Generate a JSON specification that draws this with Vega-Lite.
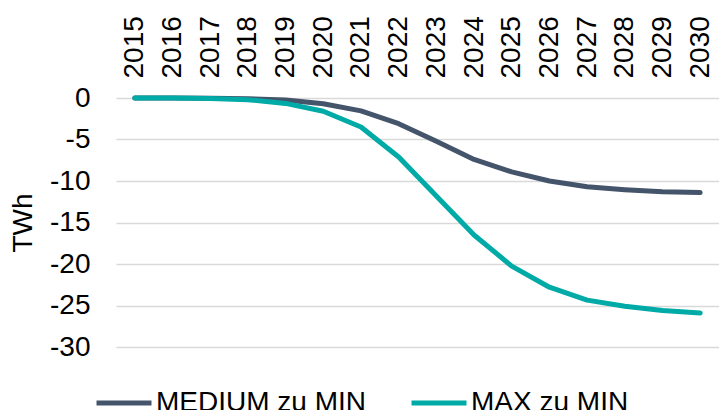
{
  "$schema": "https://vega.github.io/schema/vega-lite/v6.json",
  "autosize": {"type": "none"},
  "width": 603,
  "height": 249,
  "padding": {"left": 116, "top": 98, "right": 0, "bottom": 63},
  "background": "white",
  "config": {
    "view": {"stroke": null},
    "font": "Liberation Sans",
    "axis": {"labelFont": "Liberation Sans", "titleFont": "Liberation Sans", "labelColor": "#000000", "titleColor": "#000000"},
    "legend": {"labelFont": "Liberation Sans", "labelColor": "#000000"}
  },
  "data": {
    "values": [
      {"year": "2015", "series": "MEDIUM zu MIN", "value": 0},
      {"year": "2016", "series": "MEDIUM zu MIN", "value": 0},
      {"year": "2017", "series": "MEDIUM zu MIN", "value": -0.02},
      {"year": "2018", "series": "MEDIUM zu MIN", "value": -0.08},
      {"year": "2019", "series": "MEDIUM zu MIN", "value": -0.25},
      {"year": "2020", "series": "MEDIUM zu MIN", "value": -0.7},
      {"year": "2021", "series": "MEDIUM zu MIN", "value": -1.55},
      {"year": "2022", "series": "MEDIUM zu MIN", "value": -3.1},
      {"year": "2023", "series": "MEDIUM zu MIN", "value": -5.2},
      {"year": "2024", "series": "MEDIUM zu MIN", "value": -7.4},
      {"year": "2025", "series": "MEDIUM zu MIN", "value": -8.9},
      {"year": "2026", "series": "MEDIUM zu MIN", "value": -10.0},
      {"year": "2027", "series": "MEDIUM zu MIN", "value": -10.7},
      {"year": "2028", "series": "MEDIUM zu MIN", "value": -11.05},
      {"year": "2029", "series": "MEDIUM zu MIN", "value": -11.3},
      {"year": "2030", "series": "MEDIUM zu MIN", "value": -11.4},
      {"year": "2015", "series": "MAX zu MIN", "value": 0},
      {"year": "2016", "series": "MAX zu MIN", "value": 0},
      {"year": "2017", "series": "MAX zu MIN", "value": -0.05},
      {"year": "2018", "series": "MAX zu MIN", "value": -0.2},
      {"year": "2019", "series": "MAX zu MIN", "value": -0.65},
      {"year": "2020", "series": "MAX zu MIN", "value": -1.6},
      {"year": "2021", "series": "MAX zu MIN", "value": -3.5},
      {"year": "2022", "series": "MAX zu MIN", "value": -7.1},
      {"year": "2023", "series": "MAX zu MIN", "value": -11.8},
      {"year": "2024", "series": "MAX zu MIN", "value": -16.5},
      {"year": "2025", "series": "MAX zu MIN", "value": -20.25},
      {"year": "2026", "series": "MAX zu MIN", "value": -22.8},
      {"year": "2027", "series": "MAX zu MIN", "value": -24.35},
      {"year": "2028", "series": "MAX zu MIN", "value": -25.1},
      {"year": "2029", "series": "MAX zu MIN", "value": -25.6},
      {"year": "2030", "series": "MAX zu MIN", "value": -25.9}
    ]
  },
  "encoding": {
    "x": {
      "field": "year",
      "type": "ordinal",
      "scale": {"type": "point", "padding": 0.5},
      "axis": {
        "orient": "top",
        "title": null,
        "labelAngle": -90,
        "labelFontSize": 28,
        "labelPadding": 20,
        "ticks": false,
        "tickSize": 0,
        "domain": false,
        "grid": false
      }
    },
    "y": {
      "field": "value",
      "type": "quantitative",
      "scale": {"domain": [-30, 0], "nice": false, "zero": false},
      "axis": {
        "title": "TWh",
        "titleFontSize": 28,
        "titleFontWeight": "normal",
        "titlePadding": 12,
        "values": [0, -5, -10, -15, -20, -25, -30],
        "labelExpr": "datum.value == 0 ? '0' : '-' + abs(datum.value)",
        "labelFontSize": 28,
        "labelPadding": 26,
        "ticks": false,
        "tickSize": 0,
        "domain": false,
        "grid": true,
        "gridColor": "#D9D9D9",
        "gridWidth": 1.6
      }
    },
    "color": {
      "field": "series",
      "type": "nominal",
      "scale": {"domain": ["MEDIUM zu MIN", "MAX zu MIN"], "range": ["#44546A", "#00AAA6"]},
      "legend": {
        "title": null,
        "orient": "none",
        "direction": "horizontal",
        "legendX": -22,
        "legendY": 275,
        "symbolType": "stroke",
        "symbolSize": 3025,
        "symbolStrokeWidth": 5,
        "labelFontSize": 28,
        "labelOffset": 2,
        "columnPadding": 35,
        "labelLimit": 400
      }
    }
  },
  "layer": [
    {
      "transform": [{"filter": "datum.series == 'MEDIUM zu MIN'"}],
      "mark": {"type": "line", "strokeWidth": 5, "strokeCap": "round", "strokeJoin": "round"}
    },
    {
      "transform": [{"filter": "datum.series == 'MAX zu MIN'"}],
      "mark": {"type": "line", "strokeWidth": 5, "strokeCap": "round", "strokeJoin": "round"}
    }
  ]
}
